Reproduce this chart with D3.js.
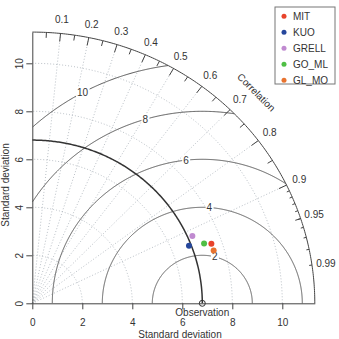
<!DOCTYPE html>
<html>
<head>
<meta charset="utf-8">
<script src="https://cdn.jsdelivr.net/npm/d3@7"></script>
<style>
  body { margin: 0; background: #fff; }
  text { font-family: "Liberation Sans", Arial, sans-serif; font-size: 10px; fill: #333; }
</style>
</head>
<body>
<svg id="chart" width="339" height="339"></svg>
<script>
    // model results
    var models = ["MIT", "KUO", "GRELL", "GO_ML", "GL_MO"];
    var colors = ["#e8432b", "#26479c", "#c08ad0", "#4fbf45", "#e8732f"];
    var modelSD = [7.58, 6.71, 6.99, 7.31, 7.58];
    var modelCorr = [0.945, 0.934, 0.916, 0.940, 0.957];

    var refSD = 6.8;
    var maxSD = 11.3;
    var sdTicks = [0, 2, 4, 6, 8, 10];
    var rmsLevels = [2, 4, 6, 8, 10];
    var corrLabels = [0.1, 0.2, 0.3, 0.4, 0.5, 0.6, 0.7, 0.8, 0.9, 0.95, 0.99];
    var corrGrid = [0.1, 0.2, 0.3, 0.4, 0.5, 0.6, 0.7, 0.8, 0.9];
    var corrMed = [0.05, 0.15, 0.25, 0.35, 0.45, 0.55, 0.65, 0.75, 0.85, 0.95];
    var corrSmall = [0.91, 0.92, 0.93, 0.94, 0.95, 0.96, 0.97, 0.98, 0.99];

    var svg = d3.select("#chart");

    var x = d3.scaleLinear().domain([0, maxSD]).range([32.3, 32.3 + 25 * maxSD]);
    var y = d3.scaleLinear().domain([0, maxSD]).range([303.3, 303.3 - 24 * maxSD]);

    var line = d3.line()
        .x(function(d) { return x(d[0]); })
        .y(function(d) { return y(d[1]); });

    function arc(r, a0, a1) {
        var pts = [];
        var n = 200;
        for (var i = 0; i <= n; i++) {
            var a = a0 + (a1 - a0) * i / n;
            pts.push([r * Math.cos(a), r * Math.sin(a)]);
        }
        return pts;
    }

    var grid = svg.append("g")
        .attr("fill", "none")
        .attr("stroke", "#a8b0b8")
        .attr("stroke-width", 0.8)
        .attr("stroke-dasharray", "1,2");

    // dotted sd arcs
    grid.selectAll(".sdarc")
        .data(sdTicks.filter(function(d) { return d > 0; }))
        .enter().append("path")
        .attr("d", function(d) { return line(arc(d, 0, Math.PI / 2)); });

    // dotted correlation rays
    grid.selectAll(".ray")
        .data(corrGrid)
        .enter().append("path")
        .attr("d", function(c) {
            var a = Math.acos(c);
            return line([[0, 0], [maxSD * Math.cos(a), maxSD * Math.sin(a)]]);
        });

    // centred RMS difference curves
    var rmsG = svg.append("g");
    rmsLevels.forEach(function(g, gi) {
        var pts = [];
        for (var t = 0; t <= Math.PI + 1e-9; t += 0.004) {
            var px = refSD + g * Math.cos(t), py = g * Math.sin(t);
            if (px >= 0 && px * px + py * py <= maxSD * maxSD) pts.push([px, py]);
        }
        rmsG.append("path")
            .attr("d", line(pts))
            .attr("fill", "none")
            .attr("stroke", "#555")
            .attr("stroke-width", 1);

        var la = (Math.floor(45 + gi * 25 / 4) - 1) * 0.03;
        var lx = x(refSD + g * Math.cos(la)), ly = y(g * Math.sin(la));
        var t = rmsG.append("text")
            .attr("x", lx).attr("y", ly)
            .attr("text-anchor", "middle")
            .attr("dy", "0.35em")
            .attr("font-size", "11px")
            .text(g);
        var bb = t.node().getBBox();
        rmsG.insert("rect", function() { return t.node(); })
            .attr("x", bb.x - 1).attr("y", bb.y)
            .attr("width", bb.width + 2).attr("height", bb.height)
            .attr("fill", "#fff");
    });

    // outer arc
    svg.append("path")
        .attr("d", line(arc(maxSD, 0, Math.PI / 2)))
        .attr("fill", "none").attr("stroke", "#444").attr("stroke-width", 1);

    function ticks(list, frac) {
        svg.append("g").selectAll("line")
            .data(list).enter().append("line")
            .attr("x1", function(c) { return x(maxSD * c); })
            .attr("y1", function(c) { return y(maxSD * Math.sqrt(1 - c * c)); })
            .attr("x2", function(c) { return x(frac * maxSD * c); })
            .attr("y2", function(c) { return y(frac * maxSD * Math.sqrt(1 - c * c)); })
            .attr("stroke", "#444").attr("stroke-width", 1);
    }
    ticks(corrGrid, 0.97);
    ticks(corrMed, 0.98);
    ticks(corrSmall, 0.99);

    svg.append("g").selectAll("text")
        .data(corrLabels).enter().append("text")
        .attr("x", function(c) { return x(1.05 * maxSD * c); })
        .attr("y", function(c) { return y(1.05 * maxSD * Math.sqrt(1 - c * c)); })
        .attr("dy", "0.35em")
        .attr("text-anchor", "middle")
        .text(function(c) { return c; });

    svg.append("text")
        .attr("transform", "translate(" + (x(0.8 * maxSD) - 2) + "," + (y(0.8 * maxSD) + 6) + ") rotate(45)")
        .attr("text-anchor", "middle")
        .attr("dy", "0.35em")
        .text("Correlation");

    // reference sd arc
    svg.append("path")
        .attr("d", line(arc(refSD, 0, Math.PI / 2)))
        .attr("fill", "none").attr("stroke", "#333").attr("stroke-width", 1.5);

    // axes
    var yAxis = svg.append("g")
        .attr("transform", "translate(" + x(0) + ",0)")
        .call(d3.axisLeft(y).tickValues(sdTicks).tickSize(6).tickSizeOuter(0).tickFormat(d3.format("d")));
    yAxis.selectAll("text")
        .attr("transform", "rotate(-90)")
        .attr("x", 0).attr("y", -9.5).attr("dy", 0)
        .attr("text-anchor", "middle");

    var xAxis = svg.append("g")
        .attr("transform", "translate(0," + y(0) + ")")
        .call(d3.axisBottom(x).tickValues(sdTicks).tickSize(6).tickSizeOuter(0).tickFormat(d3.format("d")));
    xAxis.selectAll("text").attr("y", 16);

    svg.selectAll(".domain, .tick line").attr("stroke", "#444");
    svg.selectAll(".tick text").attr("fill", "#333").style("font-family", "'Liberation Sans', Arial, sans-serif").style("font-size", "10px");

    svg.append("text")
        .attr("transform", "translate(8.5,185) rotate(-90)")
        .attr("text-anchor", "middle")
        .text("Standard deviation");
    svg.append("text")
        .attr("x", 180).attr("y", 338)
        .attr("text-anchor", "middle")
        .text("Standard deviation");

    // observation
    svg.append("circle")
        .attr("cx", x(refSD)).attr("cy", y(0)).attr("r", 3)
        .attr("fill", "none").attr("stroke", "#333").attr("stroke-width", 1);
    svg.append("text")
        .attr("x", x(refSD)).attr("y", y(0) + 13)
        .attr("text-anchor", "middle")
        .text("Observation");

    // model points
    svg.append("g").selectAll("circle")
        .data(models).enter().append("circle")
        .attr("cx", function(d, i) { return x(modelSD[i] * modelCorr[i]); })
        .attr("cy", function(d, i) { return y(modelSD[i] * Math.sqrt(1 - modelCorr[i] * modelCorr[i])); })
        .attr("r", 3)
        .attr("fill", function(d, i) { return colors[i]; });

    // legend
    var legend = svg.append("g").attr("transform", "translate(275,7)");
    legend.append("rect")
        .attr("width", 60).attr("height", 77)
        .attr("fill", "#fff").attr("stroke", "#777");
    var item = legend.selectAll(".item")
        .data(models).enter().append("g")
        .attr("transform", function(d, i) { return "translate(0," + (9.3 + i * 16) + ")"; });
    item.append("circle").attr("cx", 9).attr("r", 2.5)
        .attr("fill", function(d, i) { return colors[i]; });
    item.append("text").attr("x", 18).attr("dy", "0.35em").text(function(d) { return d; });
</script>
</body>
</html>
